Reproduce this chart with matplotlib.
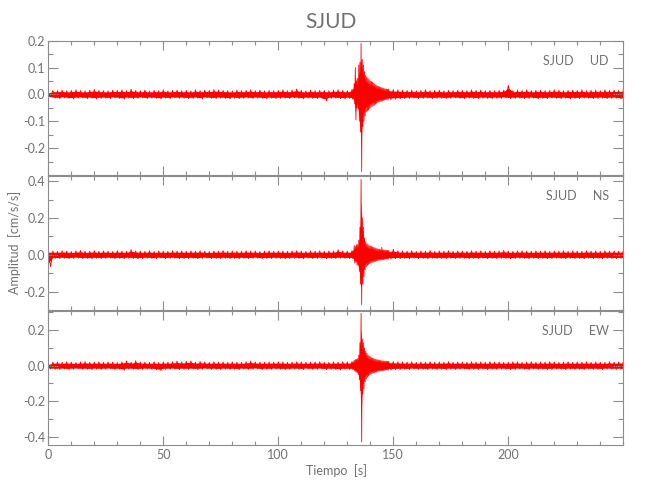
import numpy as np
import matplotlib.pyplot as plt
from matplotlib.ticker import MultipleLocator, FormatStrFormatter

plt.rcParams['font.family'] = ['Lato', 'DejaVu Sans']

# upper / lower envelope of each trace, in 0.001 cm/s/s
# pre: t = 0..130 s every 2 s, event: t = 132..147.5 s every 0.5 s, post: t = 148..250 s every 2 s
ud_up_pre = [8, 15, 14, 16, 13, 15, 17, 14, 13, 16, 18, 15, 14, 13, 16, 15, 17, 14, 19, 15,
             14, 16, 13, 15, 14, 17, 13, 15, 16, 14, 15, 13, 17, 14, 16, 15, 18, 16, 15, 14,
             13, 16, 14, 15, 17, 14, 16, 13, 15, 14, 15, 17, 14, 16, 20, 15, 13, 16, 14, 15,
             15, 14, 16, 17, 15, 14]
ud_lo_pre = [-10, -14, -16, -13, -15, -17, -14, -13, -16, -14, -17, -15, -14, -16, -13, -15, -18, -14, -16, -15,
             -13, -16, -14, -15, -17, -14, -16, -13, -15, -14, -16, -15, -14, -17, -13, -15, -16, -14, -15, -17,
             -14, -16, -15, -13, -16, -14, -15, -17, -14, -16, -15, -14, -16, -13, -15, -17, -14, -15, -16, -14,
             -24, -15, -14, -16, -17, -15]
ud_up_ev = [18, 20, 40, 100, 50, 60, 110, 120, 190, 130, 110, 85, 70, 65, 60, 55, 50, 48, 45, 42,
            38, 35, 32, 30, 28, 26, 25, 24, 22, 20, 20, 19]
ud_lo_ev = [-17, -18, -35, -95, -50, -55, -100, -140, -287, -120, -100, -80, -65, -62, -58, -52, -48, -45, -42, -40,
            -36, -33, -30, -28, -27, -25, -24, -22, -21, -20, -19, -18]
ud_up_post = [20, 18, 17, 16, 15, 16, 14, 15, 17, 14, 15, 16, 13, 15, 14, 16, 15, 14, 17, 15,
              16, 14, 15, 14, 15, 16, 34, 14, 16, 15, 17, 14, 15, 16, 14, 15, 17, 16, 14, 15,
              16, 15, 17, 14, 15, 16, 14, 17, 15, 16, 15, 16]
ud_lo_post = [-19, -18, -17, -16, -15, -14, -16, -15, -14, -16, -15, -14, -16, -15, -13, -15, -16, -14, -15, -16,
              -14, -15, -16, -14, -15, -13, -16, -15, -14, -16, -15, -14, -17, -15, -16, -14, -15, -16, -14, -17,
              -15, -16, -14, -15, -16, -15, -14, -16, -15, -14, -17, -18]

ns_up_pre = [20, 21, 19, 22, 20, 18, 21, 23, 19, 20, 22, 19, 21, 20, 18, 22, 20, 19, 28, 21,
             20, 19, 22, 18, 21, 20, 19, 22, 20, 21, 19, 21, 20, 22, 19, 18, 21, 20, 23, 19,
             21, 20, 19, 22, 20, 21, 18, 20, 22, 19, 21, 20, 19, 21, 22, 20, 19, 21, 20, 22,
             19, 21, 20, 28, 21, 20]
ns_lo_pre = [-65, -20, -21, -19, -22, -20, -18, -21, -20, -22, -19, -21, -20, -18, -22, -20, -21, -19, -20, -22,
             -21, -19, -20, -22, -18, -21, -20, -19, -22, -20, -21, -19, -22, -20, -18, -21, -20, -22, -19, -21,
             -20, -22, -19, -21, -20, -18, -22, -20, -21, -19, -20, -22, -21, -19, -20, -22, -18, -21, -20, -19,
             -22, -20, -21, -19, -20, -21]
ns_up_ev = [22, 22, 50, 45, 55, 55, 80, 150, 410, 200, 150, 90, 70, 60, 55, 50, 48, 45, 42, 40,
            38, 35, 33, 30, 30, 28, 40, 28, 26, 25, 24, 24]
ns_lo_ev = [-20, -20, -45, -40, -55, -60, -90, -160, -270, -160, -120, -80, -65, -58, -52, -48, -45, -42, -40, -38,
            -35, -33, -31, -30, -29, -28, -27, -26, -25, -24, -24, -23]
ns_up_post = [24, 30, 22, 21, 20, 22, 19, 21, 20, 23, 19, 21, 20, 22, 19, 21, 20, 19, 22, 20,
              21, 19, 22, 20, 21, 24, 20, 19, 21, 22, 20, 19, 21, 20, 22, 19, 21, 20, 22, 19,
              21, 20, 19, 22, 20, 21, 19, 22, 20, 21, 20, 22]
ns_lo_post = [-23, -22, -21, -20, -22, -19, -21, -20, -22, -19, -21, -20, -22, -19, -21, -20, -19, -22, -20, -21,
              -19, -22, -20, -21, -19, -20, -22, -21, -19, -20, -22, -19, -21, -20, -22, -21, -19, -20, -22, -19,
              -21, -20, -22, -19, -21, -20, -22, -19, -20, -21, -20, -22]

ew_up_pre = [10, 20, 21, 19, 22, 20, 18, 21, 23, 19, 20, 22, 19, 21, 20, 18, 22, 27, 20, 28,
             21, 20, 19, 22, 18, 21, 20, 22, 26, 21, 25, 27, 20, 24, 21, 19, 22, 20, 21, 19,
             21, 20, 19, 22, 26, 21, 20, 19, 21, 20, 22, 21, 19, 20, 22, 21, 19, 20, 21, 22,
             20, 19, 21, 20, 22, 21]
ew_lo_pre = [-18, -20, -21, -19, -22, -20, -18, -21, -20, -22, -19, -21, -20, -18, -22, -20, -26, -19, -20, -22,
             -21, -19, -20, -22, -28, -21, -20, -19, -22, -20, -21, -19, -22, -20, -18, -21, -20, -22, -19, -21,
             -20, -22, -19, -21, -20, -18, -22, -20, -21, -19, -20, -22, -21, -19, -20, -22, -18, -21, -20, -19,
             -22, -20, -21, -24, -20, -21]
ew_up_ev = [22, 22, 30, 35, 35, 40, 60, 130, 295, 150, 130, 100, 80, 70, 60, 55, 50, 45, 42, 40,
            38, 35, 33, 32, 30, 29, 28, 27, 26, 25, 25, 24]
ew_lo_ev = [-21, -22, -30, -35, -40, -50, -80, -140, -430, -160, -130, -90, -75, -65, -58, -52, -48, -44, -42, -40,
            -37, -35, -32, -31, -30, -29, -28, -27, -26, -25, -24, -24]
ew_up_post = [25, 23, 22, 21, 20, 22, 19, 21, 20, 22, 19, 21, 20, 23, 19, 21, 20, 19, 22, 20,
              21, 19, 22, 20, 21, 19, 20, 22, 21, 19, 20, 22, 19, 21, 20, 22, 21, 19, 20, 22,
              19, 21, 20, 22, 19, 21, 20, 19, 22, 20, 21, 22]
ew_lo_post = [-24, -22, -21, -20, -22, -19, -21, -20, -22, -19, -21, -20, -22, -19, -21, -20, -19, -22, -20, -21,
              -19, -22, -20, -21, -19, -20, -22, -21, -19, -20, -22, -19, -21, -20, -22, -21, -19, -20, -22, -19,
              -21, -20, -22, -19, -21, -20, -22, -19, -20, -21, -20, -22]

station = 'SJUD'
components = ['UD', 'NS', 'EW']
uppers = [(ud_up_pre, ud_up_ev, ud_up_post), (ns_up_pre, ns_up_ev, ns_up_post), (ew_up_pre, ew_up_ev, ew_up_post)]
lowers = [(ud_lo_pre, ud_lo_ev, ud_lo_post), (ns_lo_pre, ns_lo_ev, ns_lo_post), (ew_lo_pre, ew_lo_ev, ew_lo_post)]
ylims = [(-0.30, 0.20), (-0.30, 0.43), (-0.447, 0.31)]
yticks = [[-0.2, -0.1, 0.0, 0.1, 0.2], [-0.2, 0.0, 0.2, 0.4], [-0.4, -0.2, 0.0, 0.2]]
yminor = [0.05, 0.1, 0.1]
xticks = [0, 50, 100, 150, 200]

text_c = '#707070'
axis_c = '#8c8c8c'


def knot_times(pre, ev, post):
    return np.concatenate([2.0 * np.arange(len(pre)),
                           132 + 0.5 * np.arange(len(ev)),
                           148 + 2.0 * np.arange(len(post))])


fig = plt.figure(figsize=(6.5, 5), dpi=100)
bottoms = [0.65, 0.38, 0.11]

for i, comp in enumerate(components):
    t = knot_times(*uppers[i])
    up = np.concatenate(uppers[i]) / 1000.0
    lo = np.concatenate(lowers[i]) / 1000.0

    # trace: swing from the upper envelope to the lower one between knots
    step = np.diff(np.append(t, t[-1] + 2.0))
    tz = np.ravel(np.column_stack([t, t + step / 2]))
    yz = np.ravel(np.column_stack([up, lo]))

    ax = fig.add_axes([0.0743, bottoms[i], 0.8846, 0.2686])
    ax.fill_between(t, 0.7 * lo, 0.7 * up, color='#ff0000', lw=0)
    ax.plot(tz, yz, color='#ff0000', lw=0.6)
    ax.set_xlim(0, 250)
    ax.set_ylim(*ylims[i])
    ax.set_xticks(xticks)
    ax.set_yticks(yticks[i])
    ax.xaxis.set_minor_locator(MultipleLocator(10))
    ax.yaxis.set_minor_locator(MultipleLocator(yminor[i]))
    ax.yaxis.set_major_formatter(FormatStrFormatter('%.1f'))
    ax.tick_params(axis='both', which='both', direction='in', top=True, right=True,
                   color=axis_c, labelcolor=text_c, labelsize=9, width=0.8)
    ax.tick_params(axis='x', which='major', length=6.3, pad=3)
    ax.tick_params(axis='x', which='minor', length=3.1)
    ax.tick_params(axis='y', which='major', length=7.2, pad=2)
    ax.tick_params(axis='y', which='minor', length=3.8)
    if i < 2:
        ax.tick_params(axis='x', labelbottom=False)
    for sp in ax.spines.values():
        sp.set_color(axis_c)
        sp.set_linewidth(0.8)
    ax.text(0.975, 0.848, f'{station}     {comp}', transform=ax.transAxes,
            ha='right', va='center', fontsize=9, color=text_c)

fig.text(331 / 650, 1 - 22 / 500, station, ha='center', va='center', fontsize=15, color=text_c)
fig.text(15 / 650, 1 - 242 / 500, 'Amplitud  [cm/s/s]', rotation=90, ha='center', va='center',
         fontsize=9, color=text_c)
fig.text(336 / 650, 1 - 471 / 500, 'Tiempo  [s]', ha='center', va='center', fontsize=9, color=text_c)

fig.savefig('out.png', dpi=100)
